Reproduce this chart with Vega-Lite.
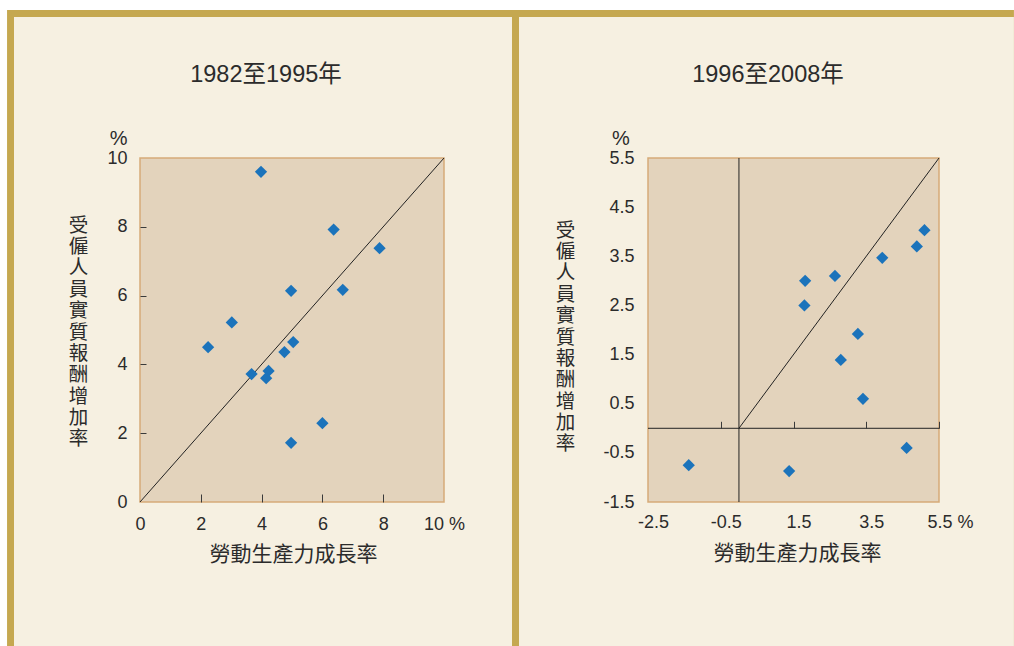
{
  "$schema": "https://vega.github.io/schema/vega-lite/v6.json",
  "background": "#ffffff",
  "padding": {"left": 7, "top": 10, "right": 0, "bottom": 0},
  "autosize": {"type": "pad"},
  "bounds": "flush",
  "spacing": 204,
  "datasets": {
    "p1982": [
      {"x": 3.98, "y": 9.60}, {"x": 6.37, "y": 7.92}, {"x": 7.88, "y": 7.38},
      {"x": 4.97, "y": 6.14}, {"x": 6.67, "y": 6.17}, {"x": 3.02, "y": 5.22},
      {"x": 2.24, "y": 4.50}, {"x": 5.04, "y": 4.65}, {"x": 4.75, "y": 4.36},
      {"x": 3.67, "y": 3.72}, {"x": 4.23, "y": 3.81}, {"x": 4.15, "y": 3.60},
      {"x": 6.00, "y": 2.29}, {"x": 4.97, "y": 1.72}
    ],
    "p1996": [
      {"x": 5.10, "y": 4.03}, {"x": 4.89, "y": 3.70}, {"x": 3.94, "y": 3.47},
      {"x": 2.64, "y": 3.10}, {"x": 1.82, "y": 3.00}, {"x": 1.80, "y": 2.50},
      {"x": 3.27, "y": 1.92}, {"x": 2.80, "y": 1.39}, {"x": 3.41, "y": 0.60},
      {"x": 4.61, "y": -0.40}, {"x": -1.38, "y": -0.75}, {"x": 1.38, "y": -0.87}
    ]
  },
  "config": {
    "view": {"stroke": null},
    "font": "'Liberation Sans', 'Noto Sans CJK TC', sans-serif",
    "axis": {
      "grid": false,
      "domain": false,
      "labelFont": "'Liberation Sans', 'Noto Sans CJK TC', sans-serif",
      "labelFontSize": 18,
      "labelColor": "#2b2b2b",
      "labelFlush": false,
      "labelOverlap": false,
      "labelBound": false,
      "tickColor": "#3a3a3a",
      "tickWidth": 1,
      "titleFont": "'Noto Sans CJK TC', 'Liberation Sans', sans-serif",
      "titleFontWeight": "normal",
      "titleColor": "#2b2b2b",
      "titleFontSize": 21
    },
    "text": {"font": "'Liberation Sans', 'Noto Sans CJK TC', sans-serif", "color": "#2b2b2b"}
  },
  "hconcat": [
    {
      "width": 304,
      "height": 344,
      "layer": [
        {
          "data": {"values": [{}]},
          "mark": {"type": "rect", "color": "#c5a850"},
          "encoding": {"x": {"datum": -4.37336}, "x2": {"datum": 28.748}, "y": {"datum": 14.3009}, "y2": {"datum": -4.184}}
        },
        {
          "data": {"values": [{}]},
          "mark": {"type": "rect", "color": "#f6f0e1"},
          "encoding": {"x": {"datum": -4.1447}, "x2": {"datum": 12.2368}, "y": {"datum": 14.099}, "y2": {"datum": -4.184}}
        },
        {
          "data": {"values": [{}]},
          "mark": {"type": "rect", "fill": "#e3d3bc", "stroke": "#d6aa78", "strokeWidth": 1.5},
          "encoding": {"x": {"datum": 0}, "x2": {"datum": 10}, "y": {"datum": 0}, "y2": {"datum": 10}}
        },
        {
          "data": {"values": [{}]},
          "mark": {"type": "rule", "color": "#222222", "strokeWidth": 1},
          "encoding": {"x": {"datum": 0}, "y": {"datum": 0}, "x2": {"datum": 10}, "y2": {"datum": 10}}
        },
        {
          "data": {"name": "p1982"},
          "mark": {"type": "point", "shape": "diamond", "filled": true, "size": 150, "color": "#1b73bb", "opacity": 1},
          "encoding": {
            "x": {
              "field": "x", "type": "quantitative",
              "scale": {"domain": [0, 10], "nice": false, "zero": false},
              "axis": {
                "zindex": 2,
                "values": [0, 2, 4, 6, 8, 10],
                "tickSize": -8,
                "labelPadding": 21,
                "labelExpr": "datum.value == 10 ? '10 %' : datum.label",
                "tickColor": {"condition": {"test": "datum.value == 0 || datum.value == 10", "value": "transparent"}, "value": "#3a3a3a"},
                "title": "勞動生產力成長率",
                "titleX": 153,
                "titleY": 52,
                "titleAlign": "center",
                "titleBaseline": "middle"
              }
            },
            "y": {
              "field": "y", "type": "quantitative",
              "scale": {"domain": [0, 10], "nice": false, "zero": false},
              "axis": {
                "zindex": 2,
                "values": [0, 2, 4, 6, 8, 10],
                "tickSize": -6,
                "labelPadding": 19,
                "tickColor": {"condition": {"test": "datum.value == 0 || datum.value == 10", "value": "transparent"}, "value": "#3a3a3a"},
                "title": ["受", "僱", "人", "員", "實", "質", "報", "酬", "增", "加", "率"],
                "titleAngle": 0,
                "titleX": -62,
                "titleY": 67,
                "titleAlign": "center",
                "titleBaseline": "middle",
                "titleFontSize": 19.5,
                "titleLineHeight": 21.4
              }
            }
          }
        },
        {
          "data": {"values": [{}]},
          "mark": {"type": "text", "fontSize": 23.5, "align": "center", "baseline": "middle", "text": "1982至1995年"},
          "encoding": {"x": {"datum": 4.145}, "y": {"datum": 12.413}}
        },
        {
          "data": {"values": [{}]},
          "mark": {"type": "text", "fontSize": 20, "align": "center", "baseline": "middle", "text": "%"},
          "encoding": {"x": {"datum": -0.70}, "y": {"datum": 10.55}}
        }
      ]
    },
    {
      "width": 291,
      "height": 344,
      "resolve": {"axis": {"x": "independent"}},
      "layer": [
        {
          "data": {"values": [{}]},
          "mark": {"type": "rect", "color": "#f6f0e1"},
          "encoding": {"x": {"datum": -6.0464, "axis": null}, "x2": {"datum": 7.560}, "y": {"datum": 8.3692}, "y2": {"datum": -4.428}}
        },
        {
          "data": {"values": [{}]},
          "mark": {"type": "rect", "fill": "#e3d3bc", "stroke": "#d6aa78", "strokeWidth": 1.5},
          "encoding": {
            "x": {
              "datum": -2.5,
              "axis": {
                "zindex": 2,
                "orient": "bottom",
                "values": [-2.5, -0.5, 1.5, 3.5, 5.5],
                "ticks": false,
                "labelPadding": 11,
                "labelExpr": "(datum.value < 0 ? '-' : '') + format(abs(datum.value), '.1f') + (datum.value == 5.5 ? ' %' : '')",
                "labelOffset": {"condition": {"test": "datum.value == 5.5", "value": 11}, "value": 5},
                "title": "勞動生產力成長率",
                "titleX": 149,
                "titleY": 51,
                "titleAlign": "center",
                "titleBaseline": "middle"
              }
            },
            "x2": {"datum": 5.5},
            "y": {"datum": -1.5},
            "y2": {"datum": 5.5}
          }
        },
        {
          "data": {"values": [{}]},
          "mark": {"type": "rule", "color": "#222222", "strokeWidth": 1},
          "encoding": {"x": {"datum": 0, "axis": null}}
        },
        {
          "data": {"values": [{}]},
          "mark": {"type": "rule", "color": "#222222", "strokeWidth": 1},
          "encoding": {"y": {"datum": 0}}
        },
        {
          "data": {"values": [{}]},
          "mark": {"type": "rule", "color": "#222222", "strokeWidth": 1},
          "encoding": {"x": {"datum": 0, "axis": null}, "y": {"datum": 0}, "x2": {"datum": 5.5}, "y2": {"datum": 5.5}}
        },
        {
          "data": {"name": "p1996"},
          "mark": {"type": "point", "shape": "diamond", "filled": true, "size": 150, "color": "#1b73bb", "opacity": 1},
          "encoding": {
            "x": {
              "field": "x", "type": "quantitative",
              "scale": {"domain": [-2.5, 5.5], "nice": false, "zero": false},
              "axis": {
                "zindex": 2,
                "orient": "bottom",
                "offset": -73.7,
                "values": [-0.5, 1.5, 3.5, 5.5],
                "labels": false,
                "tickSize": -7,
                "title": null
              }
            },
            "y": {
              "field": "y", "type": "quantitative",
              "scale": {"domain": [-1.5, 5.5], "nice": false, "zero": false},
              "axis": {
                "zindex": 2,
                "values": [-1.5, -0.5, 0.5, 1.5, 2.5, 3.5, 4.5, 5.5],
                "ticks": false,
                "labelPadding": 14,
                "labelExpr": "(datum.value < 0 ? '-' : '') + format(abs(datum.value), '.1f')",
                "title": ["受", "僱", "人", "員", "實", "質", "報", "酬", "增", "加", "率"],
                "titleAngle": 0,
                "titleX": -83,
                "titleY": 72,
                "titleAlign": "center",
                "titleBaseline": "middle",
                "titleFontSize": 19.5,
                "titleLineHeight": 21.4
              }
            }
          }
        },
        {
          "data": {"values": [{}]},
          "mark": {"type": "text", "fontSize": 23.5, "align": "center", "baseline": "middle", "text": "1996至2008年"},
          "encoding": {"x": {"datum": 0.799, "axis": null}, "y": {"datum": 7.189}}
        },
        {
          "data": {"values": [{}]},
          "mark": {"type": "text", "fontSize": 20, "align": "center", "baseline": "middle", "text": "%"},
          "encoding": {"x": {"datum": -3.242, "axis": null}, "y": {"datum": 5.88}}
        }
      ]
    }
  ]
}
